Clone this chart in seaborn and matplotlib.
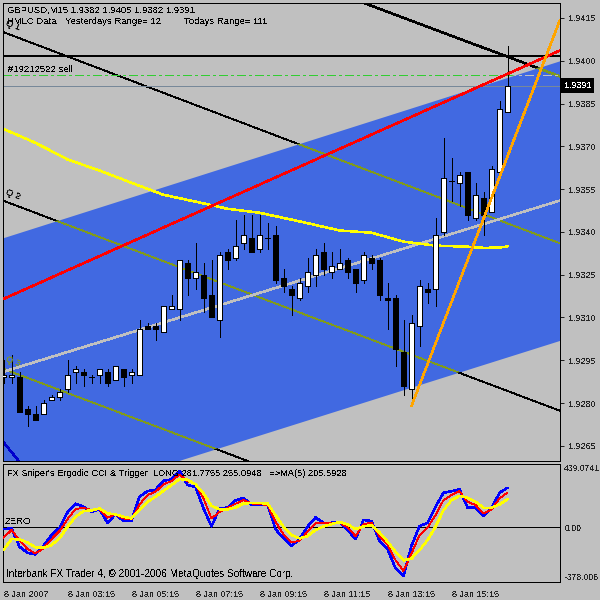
import numpy as np
import pandas as pd
import matplotlib
matplotlib.use('Agg')
import matplotlib.pyplot as plt
import seaborn as sns

# GBPUSD M15 candles, 8 Jan 2007
opens = [1.9289, 1.9289, 1.9289, 1.9278, 1.9276, 1.9276, 1.9281, 1.9282, 1.9285, 1.9291, 1.9291, 1.9289, 1.9290, 1.9291, 1.9288, 1.9292,
         1.9290, 1.9290, 1.9307, 1.9307, 1.9305, 1.9313, 1.9313, 1.9329, 1.9324, 1.9325, 1.9318, 1.9309, 1.9333, 1.9331, 1.9336, 1.9338,
         1.9334, 1.9338, 1.9339, 1.9324, 1.9320, 1.9317, 1.9321, 1.9325, 1.9333, 1.9326, 1.9327, 1.9330, 1.9327, 1.9323, 1.9331, 1.9330,
         1.9317, 1.9317, 1.9298, 1.9285, 1.9307, 1.9320, 1.9320, 1.9340, 1.9358, 1.9357, 1.9361, 1.9345, 1.9352, 1.9347, 1.9361, 1.9382]
closes = [1.9290, 1.9290, 1.9277, 1.9276, 1.9274, 1.9280, 1.9282, 1.9284, 1.9290, 1.9292, 1.9290, 1.9289, 1.9292, 1.9287, 1.9293, 1.9289,
          1.9291, 1.9306, 1.9306, 1.9306, 1.9314, 1.9314, 1.9330, 1.9324, 1.9326, 1.9317, 1.9310, 1.9332, 1.9330, 1.9335, 1.9339, 1.9333,
          1.9339, 1.9338, 1.9323, 1.9321, 1.9318, 1.9322, 1.9326, 1.9332, 1.9327, 1.9328, 1.9329, 1.9326, 1.9322, 1.9332, 1.9329, 1.9318,
          1.9316, 1.9299, 1.9286, 1.9308, 1.9321, 1.9319, 1.9339, 1.9359, 1.9358, 1.9360, 1.9346, 1.9353, 1.9346, 1.9362, 1.9383, 1.9391]
highs = [1.9295, 1.9297, 1.9291, 1.9279, 1.9279, 1.9281, 1.9283, 1.9285, 1.9295, 1.9293, 1.9292, 1.9290, 1.9292, 1.9292, 1.9293, 1.9292,
         1.9292, 1.9309, 1.9308, 1.9308, 1.9314, 1.9318, 1.9330, 1.9330, 1.9336, 1.9329, 1.9330, 1.9333, 1.9334, 1.9344, 1.9346, 1.9346,
         1.9346, 1.9343, 1.9342, 1.9327, 1.9321, 1.9324, 1.9331, 1.9334, 1.9336, 1.9333, 1.9334, 1.9331, 1.9327, 1.9333, 1.9332, 1.9331,
         1.9322, 1.9318, 1.9309, 1.9311, 1.9323, 1.9322, 1.9345, 1.9373, 1.9366, 1.9361, 1.9361, 1.9357, 1.9354, 1.9363, 1.9386, 1.9405]
lows = [1.9287, 1.9287, 1.9277, 1.9272, 1.9274, 1.9276, 1.9281, 1.9281, 1.9284, 1.9287, 1.9286, 1.9287, 1.9287, 1.9286, 1.9288, 1.9286,
        1.9287, 1.9290, 1.9306, 1.9302, 1.9305, 1.9313, 1.9309, 1.9318, 1.9320, 1.9312, 1.9310, 1.9303, 1.9327, 1.9330, 1.9334, 1.9333,
        1.9333, 1.9334, 1.9322, 1.9319, 1.9311, 1.9316, 1.9319, 1.9321, 1.9325, 1.9324, 1.9327, 1.9324, 1.9319, 1.9322, 1.9327, 1.9316,
        1.9306, 1.9293, 1.9283, 1.9279, 1.9300, 1.9315, 1.9314, 1.9339, 1.9351, 1.9349, 1.9344, 1.9344, 1.9339, 1.9347, 1.9360, 1.9382]

# moving average on the price window
ma_bars = [0, 4, 8, 12, 16, 20, 24, 28, 32, 37, 42, 46, 50, 54, 58, 60, 62, 63]
ma_vals = [1.93761, 1.93712, 1.93654, 1.93615, 1.93572, 1.9353, 1.93506, 1.93481, 1.93467, 1.93437, 1.93405,
           1.93397, 1.93366, 1.93352, 1.93348, 1.93344, 1.93345, 1.93349]

# ergodic cci window
cci_blue = [-12, -7, -134, -175, -187, -127, -53, -2, 104, 164, 143, 108, 127, 30, 92, 44,
            46, 212, 251, 261, 323, 332, 392, 293, 281, 131, 7, 131, 138, 187, 205, 155,
            157, 157, -12, -76, -127, -81, 5, 69, 32, 32, 39, -18, -81, 51, 44, -92,
            -150, -284, -335, -127, 9, 32, 143, 240, 251, 263, 138, 138, 78, 131, 240, 275]
cci_red = [-72, -18, -88, -150, -180, -145, -81, -25, 58, 127, 136, 120, 127, 67, 90, 62,
           55, 159, 224, 247, 298, 321, 367, 321, 298, 201, 62, 108, 136, 164, 189, 166,
           159, 157, 39, -48, -104, -92, -30, 28, 30, 30, 35, 0, -60, 23, 32, -60,
           -118, -226, -302, -180, -53, -2, 85, 189, 224, 251, 178, 155, 97, 125, 201, 242]
cci_yellow = [-157, -81, -83, -104, -138, -141, -122, -76, 5, 74, 113, 118, 131, 97, 90, 74,
              62, 120, 178, 212, 254, 293, 335, 330, 298, 235, 150, 125, 125, 138, 166, 168,
              168, 166, 85, 5, -53, -76, -60, -18, 7, 23, 37, 21, -12, 7, 16, -35,
              -99, -168, -228, -215, -157, -88, 5, 120, 189, 219, 205, 178, 136, 136, 159, 196]

# drawn objects: price at first bar and at the right edge
edge_bars = [0, 69.56]
channel_top = [1.9338, 1.9400]
channel_bottom = [1.92405, 1.9302]
channel_mid = [1.9291, 1.9351]
red_line = [1.93165, 1.94036]
q1_line = [1.9410, 1.9336]
q2_line = [1.93509, 1.92773]
q3_line = [1.9292, 1.92184]
q0_bars = [44.8, 69.56]
q0_line = [1.94205, 1.93945]
orange_bars = [51, 69.56]
orange_line = [1.9279, 1.94143]
blue_bars = [0, 1.9]
blue_line = [1.92663, 1.92597]
black_level = 1.94016
order_level = 1.93949
last_price = 1.9391

price_ticks = [1.9415, 1.9400, 1.9385, 1.9370, 1.9355, 1.9340, 1.9325, 1.9310, 1.9295, 1.9280, 1.9265]
time_ticks = [0, 8, 16, 24, 32, 40, 48, 56]
time_labels = ['8 Jan 2007', '8 Jan 03:15', '8 Jan 05:15', '8 Jan 07:15',
               '8 Jan 09:15', '8 Jan 11:15', '8 Jan 13:15', '8 Jan 15:15']

sns.set_style('white')
plt.rcParams['font.family'] = 'Liberation Sans'
plt.rcParams['font.size'] = 6.8
plt.rcParams['text.antialiased'] = False

SILVER = '#C0C0C0'
OLIVE = '#7F9A1E'
LW2 = 1.1
LW1 = 0.6
TICK_SIZE = 6.5

fig = plt.figure(figsize=(6, 6), dpi=100, facecolor=SILVER)
ax = fig.add_axes([2.5 / 600, 139 / 600, 557.5 / 600, 458.5 / 600], facecolor=SILVER)
sub = fig.add_axes([2.5 / 600, 18 / 600, 557.5 / 600, 118 / 600], facecolor=SILVER)

df = pd.DataFrame({'bar': np.arange(len(opens)), 'open': opens, 'high': highs, 'low': lows, 'close': closes})

band = ax.fill_between(edge_bars, channel_bottom, channel_top, color='#4169E1', lw=0, antialiased=False, zorder=1)
band_path = band.get_paths()[0]


def draw(x, y, color, lw, z, clip=False):
    line = sns.lineplot(x=x, y=y, ax=ax, color=color, linewidth=lw, antialiased=False,
                        zorder=z, sort=False, errorbar=None).lines[-1]
    if clip:
        line.set_clip_path(band_path, ax.transData)
    return line


# trend lines turn olive where they run over the channel
for bars_q, vals_q, lw in [(edge_bars, q1_line, LW1), (edge_bars, q2_line, LW1),
                           (edge_bars, q3_line, LW1), (q0_bars, q0_line, LW2)]:
    draw(bars_q, vals_q, 'black', lw, 2)
    draw(bars_q, vals_q, OLIVE, lw, 2.1, clip=True)

ax.axhline(order_level, color='#32CD32', lw=LW1, ls=(0, (10, 4, 3, 4)), antialiased=False, zorder=2.2)
order_over = ax.axhline(order_level, color=SILVER, lw=LW1, ls=(0, (10, 4, 3, 4)), antialiased=False, zorder=2.3)
order_over.set_clip_path(band_path, ax.transData)
ax.axhline(last_price, color='#778899', lw=LW1, antialiased=False, zorder=2.2)

draw(edge_bars, channel_mid, SILVER, LW2, 2.4)
draw(ma_bars, ma_vals, 'yellow', LW2, 2.5)
draw(blue_bars, blue_line, '#0000CD', LW2, 2.5)

# candles
ax.vlines(df['bar'], df['low'], df['high'], color='black', lw=LW1, antialiased=False, zorder=3)
body_low = df[['open', 'close']].min(axis=1)
body_high = df[['open', 'close']].max(axis=1)
body_col = ['white' if c >= o else 'black' for o, c in zip(opens, closes)]
ax.bar(df['bar'], body_high - body_low, bottom=body_low, width=0.55, color=body_col,
       edgecolor='black', linewidth=LW1, antialiased=False, zorder=3.1)

ax.axhline(black_level, color='black', lw=LW2, antialiased=False, zorder=3.5)
draw(edge_bars, red_line, 'red', LW2, 4)
draw(orange_bars, orange_line, 'orange', LW2, 4)

ax.set_xlim(-0.125, 69.56)
ax.set_ylim(1.92597, 1.94204)
ax.yaxis.tick_right()
ax.set_yticks(price_ticks, [f'{t:.4f}' for t in price_ticks])
ax.set_xticks([])
ax.tick_params(axis='y', length=3, width=LW1, pad=3, color='black', labelsize=TICK_SIZE)
ax.set_xlabel('')
ax.set_ylabel('')


def label(axes, px, py, s, **kw):
    # positions given in screen pixels from the top left of the picture
    kw.setdefault('color', 'black')
    axes.text(px / 600, 1 - py / 600, s, transform=fig.transFigure, va='center', ha='left', zorder=6, **kw)


label(ax, 7, 10, 'GBPUSD,M15 1.9382 1.9405 1.9382 1.9391', fontsize=6.8)
label(ax, 7, 21, 'HMLC Data')
label(ax, 65, 21, 'Yesterdays Range= 12')
label(ax, 184, 21, 'Todays Range= 111')
label(ax, 8, 69, '#19212522 sell')
label(ax, 4, 25, 'Q 1', rotation=-20)
label(ax, 4, 194, 'Q 2', rotation=-20)
label(ax, 4, 361, 'Q 3', rotation=-20, color=OLIVE)
ax.text(564 / 600, 1 - 85.5 / 600, f'{last_price:.4f}', transform=fig.transFigure, color='white', va='center',
        ha='left', fontsize=TICK_SIZE, zorder=7, bbox=dict(facecolor='black', edgecolor='none', pad=2))

# indicator window
sns.lineplot(x=df['bar'], y=cci_blue, ax=sub, color='#0000FF', linewidth=LW2, antialiased=False, errorbar=None, zorder=3)
sns.lineplot(x=df['bar'], y=cci_red, ax=sub, color='red', linewidth=LW1, antialiased=False, errorbar=None, zorder=3.1)
sns.lineplot(x=df['bar'], y=cci_yellow, ax=sub, color='yellow', linewidth=LW2, antialiased=False, errorbar=None, zorder=3.2)
sub.axhline(0, color='black', lw=LW1, antialiased=False, zorder=2)

sub.set_xlim(-0.125, 69.56)
sub.set_ylim(-378.006, 439.0741)
sub.yaxis.tick_right()
sub.set_yticks([-378.006, 0, 439.0741], ['-378.006', '0.00', '439.0741'])
sub.get_yticklabels()[0].set_va('bottom')
sub.get_yticklabels()[2].set_va('top')
sub.tick_params(axis='y', length=0, pad=3, labelsize=6.2)
sub.set_xticks(time_ticks, time_labels, ha='left')
sub.tick_params(axis='x', length=3, width=LW1, pad=3, labelsize=TICK_SIZE)
sub.set_xlabel('')
sub.set_ylabel('')

label(sub, 7, 473, "FX Sniper's Ergodic CCI & Trigger: LONG 281.7755 255.0948   =>MA(5) 205.5928", fontsize=6.7)
label(sub, 5, 521, 'ZERO')
label(sub, 6, 574, 'Interbank FX Trader 4, © 2001-2006 MetaQuotes Software Corp.', fontsize=7.2)

for a in (ax, sub):
    for s in a.spines.values():
        s.set_visible(True)
        s.set_color('black')
        s.set_linewidth(LW1)
        s.set_antialiased(False)

fig.savefig('out.png', dpi=100, facecolor=SILVER)
